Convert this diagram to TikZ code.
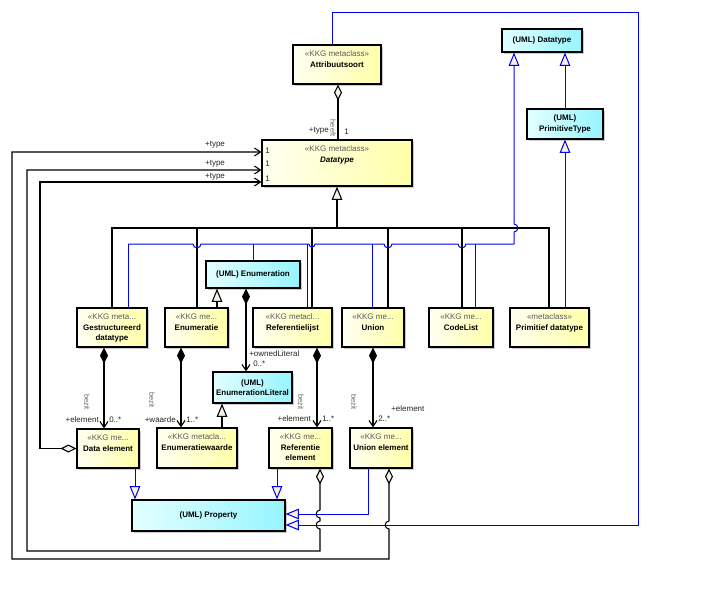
\documentclass[tikz,border=0pt]{standalone}
\usepackage{fontspec}
\setmainfont{Liberation Sans}
\usetikzlibrary{arrows.meta,fit,shadows}
\definecolor{kkgL}{HTML}{FFFFF2}
\definecolor{kkgR}{HTML}{FFFFA8}
\definecolor{umlL}{HTML}{E2FFFF}
\definecolor{umlR}{HTML}{96F4FF}
\definecolor{bline}{HTML}{0000F0}
\definecolor{tipfill}{HTML}{F6F0E6}
\definecolor{stereo}{HTML}{5A5A5A}
\tikzset{
  box/.style={draw=black, line width=0.9pt, inner sep=0pt,
    drop shadow={shadow xshift=1.6pt, shadow yshift=-1.6pt, fill=black!40, opacity=0.5}},
  kkg/.style={box, left color=kkgL, right color=kkgR},
  uml/.style={box, left color=umlL, right color=umlR},
  txt/.style={font=\fontsize{6}{8}\selectfont, align=center, inner sep=0pt},
  role/.style={font=\fontsize{6}{7}\selectfont, inner sep=0pt, text=black!85},
  vlab/.style={font=\fontsize{5.5}{6}\selectfont, inner sep=0pt, text=black!60, rotate=-90},
  ln/.style={line width=0.8pt, draw=black},
  bl/.style={line width=0.75pt, draw=bline},
  ggen/.style={ln, -{Triangle[length=10pt,width=8pt,fill=tipfill]}},
  bgen/.style={bl, -{Triangle[length=10pt,width=8pt,fill=tipfill]}},
  comp/.style={ln, {Diamond[length=12pt,width=6pt]}-{Straight Barb[length=4.5pt,width=6pt]}},
  agg/.style={ln, {Diamond[length=12pt,width=6pt,fill=tipfill]}-{Straight Barb[length=4.5pt,width=6pt]}},
}
\newcommand\kbox[6]{%
  \node[kkg, fit={(#2,#3)(#4,#5)}] (#1) {};
  \node[txt, anchor=north] at ([yshift=-4.6pt]#1.north) {#6};}
\newcommand\ubox[6]{%
  \node[uml, fit={(#2,#3)(#4,#5)}] (#1) {};
  \node[txt, font=\fontsize{6}{8}\selectfont\bfseries] at (#1.center) {#6};}
\begin{document}
\begin{tikzpicture}[x=0.75pt,y=-0.75pt]
\fill[white] (0,0) rectangle (707,590);
\useasboundingbox (0,0) rectangle (707,590);

% ---------- boxes ----------
\kbox{at}{293}{45}{381}{84}{{\color{stereo}«KKG metaclass»}\\\textbf{Attribuutsoort}}
\kbox{dt}{262}{140}{412}{186}{{\color{stereo}«KKG metaclass»}\\{\bfseries\itshape Datatype}}
\ubox{udt}{502}{29}{582}{52}{(UML) Datatype}
\ubox{upt}{527}{109}{603}{139}{(UML)\\PrimitiveType}
\kbox{gd}{77}{308}{147}{347}{{\color{stereo}«KKG meta...}\\\textbf{Gestructureerd}\\\textbf{datatype}}
\kbox{en}{165}{308}{228}{347}{{\color{stereo}«KKG me...}\\\textbf{Enumeratie}}
\kbox{rl}{253}{308}{332}{347}{{\color{stereo}«KKG metacl...}\\\textbf{Referentielijst}}
\kbox{un}{342}{308}{404}{347}{{\color{stereo}«KKG me...}\\\textbf{Union}}
\kbox{cl}{429}{308}{493}{347}{{\color{stereo}«KKG me...}\\\textbf{CodeList}}
\kbox{pd}{510}{308}{589}{347}{{\color{stereo}«metaclass»}\\\textbf{Primitief datatype}}
\ubox{uen}{206}{261}{300}{288}{(UML) Enumeration}
\ubox{uel}{213}{372}{292}{403}{(UML)\\EnumerationLiteral}
\kbox{de}{77}{429}{139}{468}{{\color{stereo}«KKG me...}\\\textbf{Data element}}
\kbox{ew}{157}{428}{237}{468}{{\color{stereo}«KKG metacla...}\\\textbf{Enumeratiewaarde}}
\kbox{re}{269}{428}{332}{468}{{\color{stereo}«KKG me...}\\\textbf{Referentie}\\\textbf{element}}
\kbox{ue}{350}{428}{412}{468}{{\color{stereo}«KKG me...}\\\textbf{Union element}}
\ubox{pr}{132}{500}{285}{531}{(UML) Property}

% ---------- Attribuutsoort -> Datatype ----------
\draw[ln, {Diamond[length=12pt,width=6pt,fill=tipfill]}-] (at.south -| 338,0) -- (dt.north -| 338,0);
\node[role, anchor=east] at (329,131) {+type};
\node[role, anchor=west] at (344,132) {1};
\node[vlab] at (333,128) {heeft};

% ---------- black generalization bus to Datatype ----------
\coordinate (B) at (337,228);
\draw[ln] (gd.north -| 112,0) |- (B);
\draw[ln] (en.north -| 197,0) |- (B);
\draw[ln] (rl.north -| 312,0) |- (B);
\draw[ln] (un.north -| 388,0) |- (B);
\draw[ln] (cl.north -| 462,0) |- (B);
\draw[ln] (pd.north -| 549,0) |- (B);
\draw[ggen] (B) -- (dt.south);

% ---------- blue generalization bus to (UML) Datatype ----------
\coordinate (J) at (514,244);
\draw[bl] (gd.north -| 128,0) -- (128,244);
\draw[bl] (uen.north -| 253,0) -- (253,244);
\draw[bl] (rl.north -| 307,0) -- (307,244);
\draw[bl] (un.north -| 372,0) -- (372,244);
\draw[bl] (cl.north -| 475,0) -- (475,244);
\draw[bl] (128,244) -- (193,244) .. controls (193,249) and (201,249) .. (201,244)
  -- (309,244) .. controls (309,248) and (315,248) .. (315,244)
  -- (384,244) .. controls (384,249) and (392,249) .. (392,244)
  -- (458,244) .. controls (458,249) and (466,249) .. (466,244) -- (J);
\draw[bgen] (J) -- (514,232) .. controls (519,232) and (519,224) .. (514,224) -- (udt.south -| 514,0);
\draw[bgen] (pd.north -| 565,0) -- (upt.south -| 565,0);
\draw[bgen] (upt.north -| 565,0) -- (udt.south -| 565,0);

% ---------- Enumeration ----------
\draw[ggen] (en.north -| 217,0) -- (uen.south -| 217,0);
\draw[comp] (uen.south -| 246,0) -- (uel.north -| 246,0);
\node[role, anchor=west] at (249,354) {+ownedLiteral};
\node[role, anchor=west] at (253,364) {0..*};
\draw[ggen] (ew.north -| 222,0) -- (uel.south -| 222,0);

% ---------- compositions ----------
\draw[comp] (gd.south -| 104,0) -- (de.north -| 104,0);
\draw[comp] (en.south -| 181,0) -- (ew.north -| 181,0);
\draw[comp] (rl.south -| 317,0) -- (re.north -| 317,0);
\draw[comp] (un.south -| 373,0) -- (ue.north -| 373,0);
\node[role, anchor=east] at (99,420) {+element};
\node[role, anchor=west] at (109,420) {0..*};
\node[vlab] at (87,402) {bezit};
\node[role, anchor=east] at (176,420) {+waarde};
\node[role, anchor=west] at (186,420) {1..*};
\node[vlab] at (152,400) {bezit};
\node[role, anchor=east] at (311,419) {+element};
\node[role, anchor=west] at (322,419) {1..*};
\node[vlab] at (301,402) {bezit};
\node[role, anchor=west] at (391,409) {+element};
\node[role, anchor=west] at (378,419) {2..*};
\node[vlab] at (354,402) {bezit};

% ---------- generalizations to Property ----------
\draw[bgen] (de.south -| 135,0) -- (pr.north -| 135,0);
\draw[bgen] (re.south -| 277,0) -- (pr.north -| 277,0);
\draw[bgen] (ue.south -| 368,0) |- (pr.east |- 0,514);
\draw[bgen] (at.north -| 332,0) |- (638,12) |- (pr.east |- 0,525);

% ---------- +type associations to Datatype ----------
\draw[agg] (ue.south -| 389,0) -- (389,521) .. controls (384,521) and (384,529) .. (389,529)
  -- (389,559) -- (12,559) -- (12,152) -- (dt.west |- 0,152);
\draw[agg] (re.south -| 320,0) -- (320,510) .. controls (315,510) and (315,518) .. (320,518)
  -- (320,521) .. controls (315,521) and (315,529) .. (320,529)
  -- (320,551) -- (27,551) -- (27,170) -- (dt.west |- 0,170);
\draw[agg] (de.west) -| (40,182) -- (dt.west |- 0,182);
\node[role] at (215,145) {+type};
\node[role] at (215,164) {+type};
\node[role] at (215,177) {+type};
\node[role, anchor=west] at (265,151) {1};
\node[role, anchor=west] at (265,164) {1};
\node[role, anchor=west] at (265,179) {1};
\end{tikzpicture}
\end{document}
